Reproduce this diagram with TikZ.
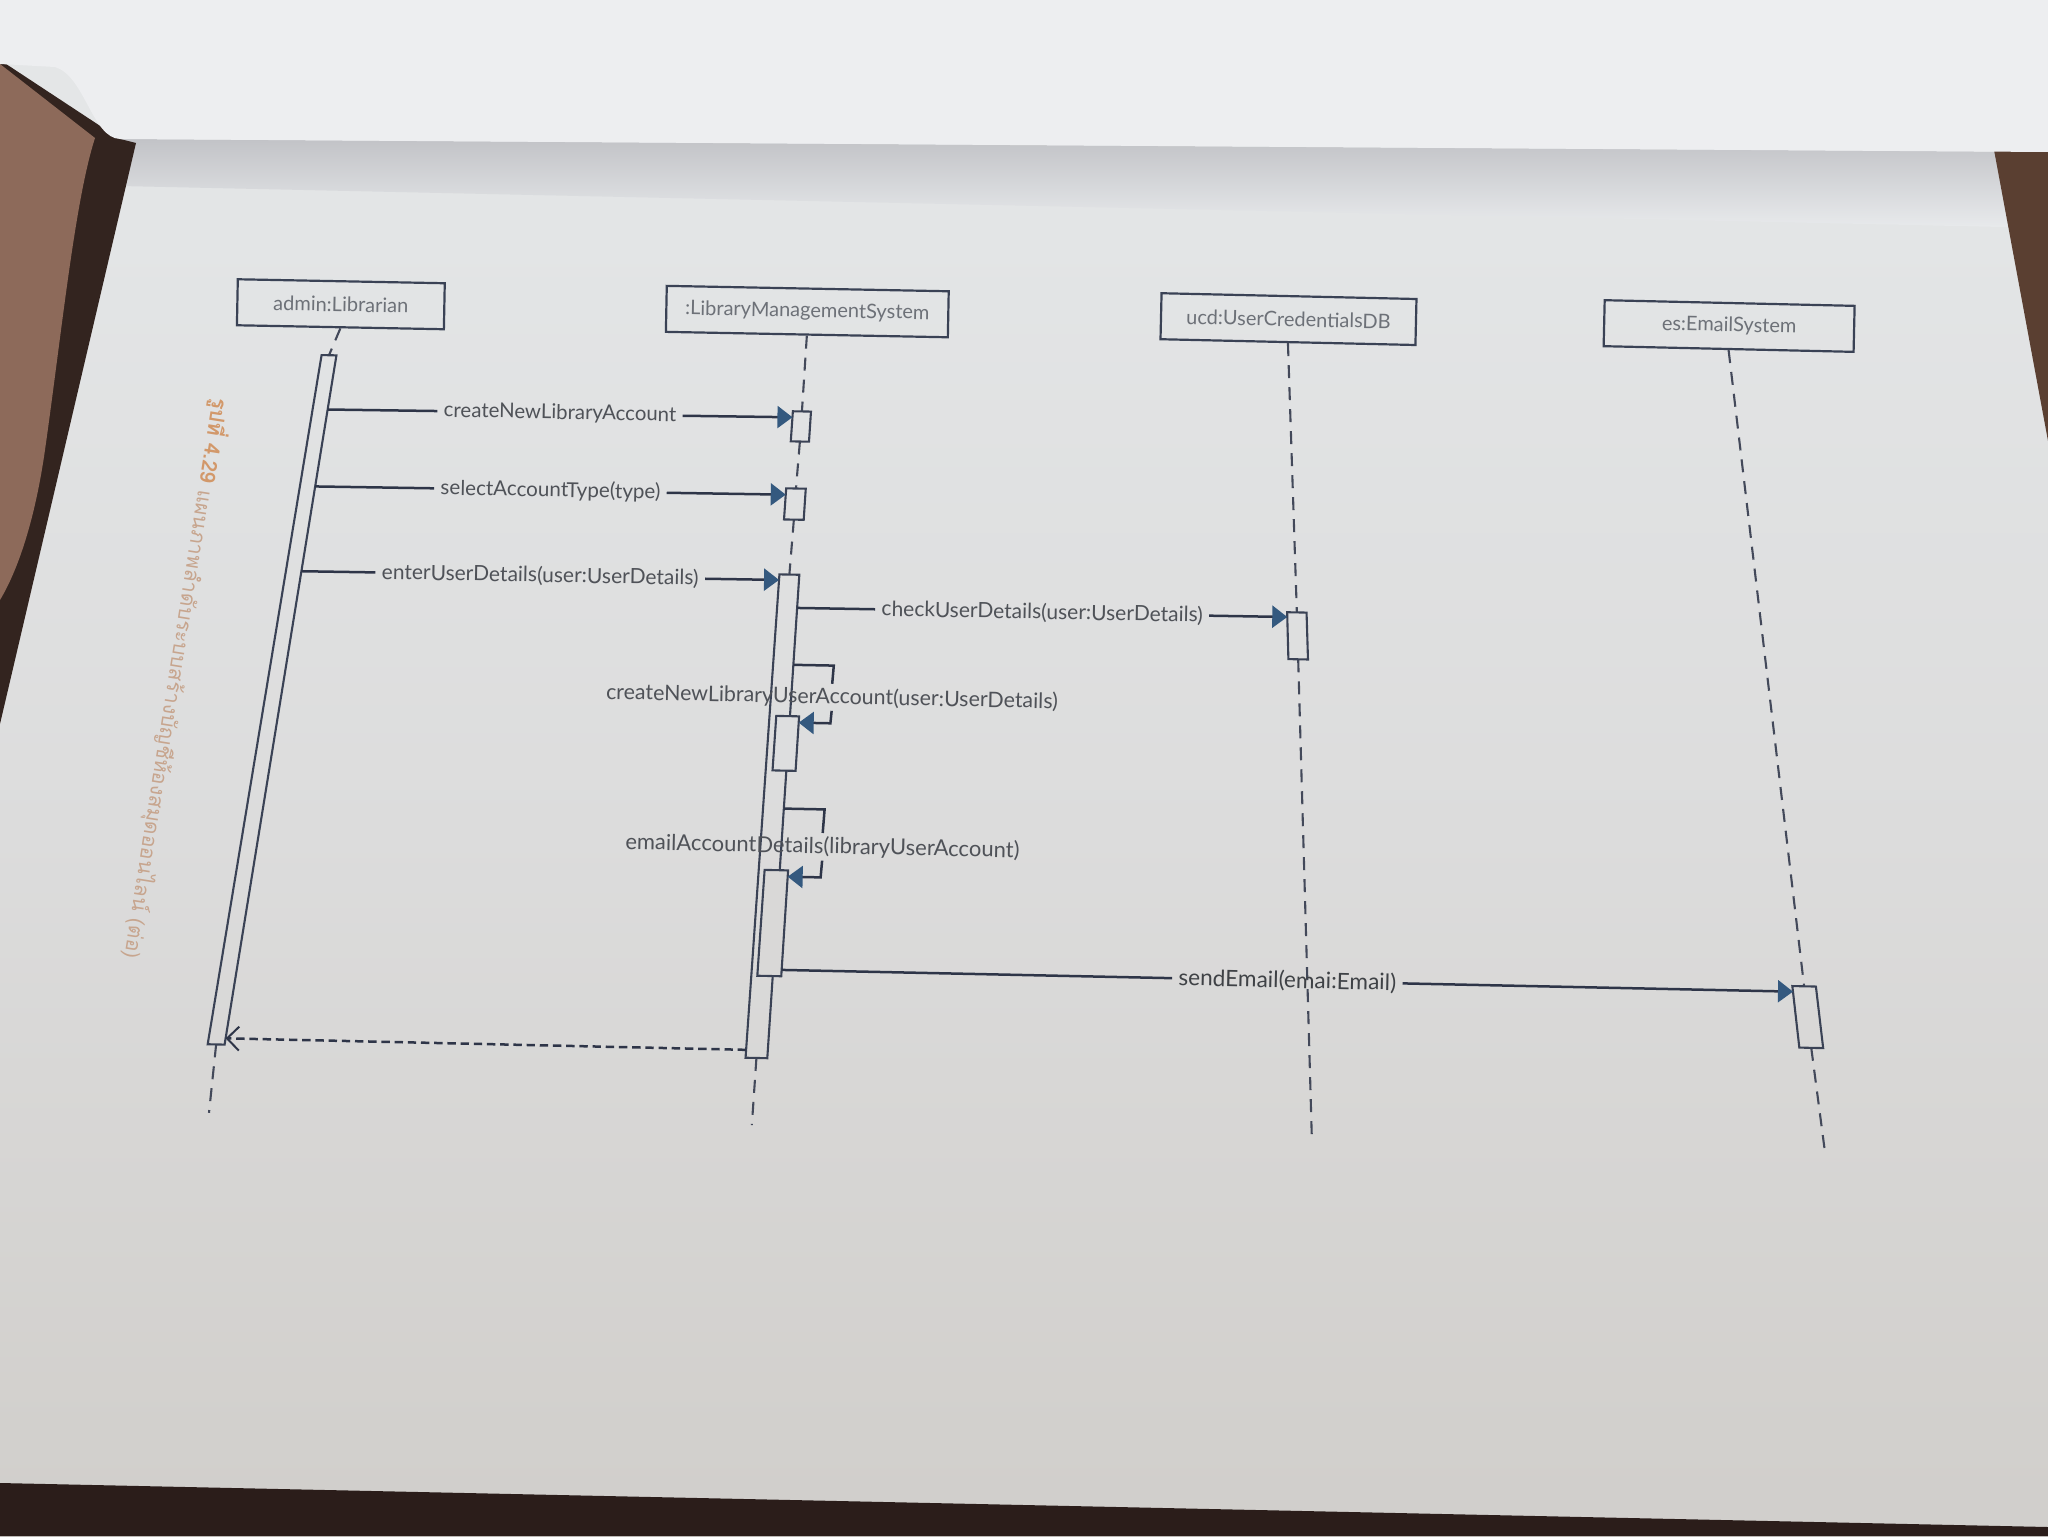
\documentclass[tikz,border=0pt]{standalone}
\usepackage{fontspec}
\setmainfont{Lato}
\newfontfamily\thaifont[Script=Thai]{Loma}
\usetikzlibrary{arrows.meta,calc}

% paper, ink and caption colours
\definecolor{pgA}{HTML}{E8EAEC}
\definecolor{pgB}{HTML}{E3E5E6}
\definecolor{pgC}{HTML}{DCDCDC}
\definecolor{pgD}{HTML}{D2D0CD}
\definecolor{pgE}{HTML}{C8C4C0}
\definecolor{toppage}{HTML}{EDEEF0}
\definecolor{foldshadow}{HTML}{C2C3C7}
\definecolor{skin}{HTML}{8D6A5A}
\definecolor{darkgap}{HTML}{33241F}
\definecolor{tablewood}{HTML}{5A3F31}
\definecolor{tabledark}{HTML}{2B1D1A}
\definecolor{inkline}{HTML}{2E3548}
\definecolor{barline}{HTML}{3A4255}
\definecolor{tipblue}{HTML}{34597F}
\definecolor{labelgrey}{HTML}{4F5258}
\definecolor{headgrey}{HTML}{6D7178}
\definecolor{captionbold}{HTML}{D2986A}
\definecolor{captionlight}{HTML}{C7A58E}
\definecolor{nestfillA}{HTML}{DDDEDF}
\definecolor{nestfillB}{HTML}{D9D8D7}

\pgfdeclareverticalshading{pageshade}{100bp}{color(0bp)=(pgE); color(28.4bp)=(pgD); color(47.9bp)=(pgC); color(67.4bp)=(pgB); color(100bp)=(pgA)}

% point of the sheet at lifeline position u and time v (bilinear frame)
\newcommand\mapat[3]{%
  \pgfmathsetmacro\mapx{(1-(#3))*((1-(#2))*337.0+(#2)*1731.9)+(#3)*((1-(#2))*209.0+(#2)*1824.6)}%
  \pgfmathsetmacro\mapy{(1-(#3))*((1-(#2))*327.8+(#2)*350.0)+(#3)*((1-(#2))*1112.8+(#2)*1149.4)}%
  \coordinate (#1) at (\mapx,\mapy);%
}
% activation bar corners: name, centre u, half width, top v, bottom v
\newcommand\actbar[5]{%
  \mapat{#1-tl}{(#2)-(#3)}{#4}\mapat{#1-tr}{(#2)+(#3)}{#4}%
  \mapat{#1-bl}{(#2)-(#3)}{#5}\mapat{#1-br}{(#2)+(#3)}{#5}%
  \mapat{#1-t}{#2}{#4}\mapat{#1-b}{#2}{#5}%
}

\begin{document}
\begin{tikzpicture}[x=0.5pt,y=-0.5pt,
  objhead/.style={draw=barline, line width=1.1pt, minimum height=23pt, inner sep=0pt,
    font=\fontsize{10}{12}\selectfont, text=headgrey},
  actbox/.style={draw=barline, line width=1.05pt, line join=miter},
  lifeline/.style={draw=inkline!90, line width=1.05pt, dash pattern=on 6.5pt off 4.5pt},
  msgline/.style={draw=inkline, line width=1.25pt},
  msgtip/.style={-{Triangle[length=7.5pt,width=11pt,color=tipblue]}},
  retline/.style={draw=inkline, line width=1.25pt, dash pattern=on 4.2pt off 2.4pt,
    -{Straight Barb[length=6pt,width=12pt,line width=1pt]}},
  msg/.style={text=labelgrey, inner xsep=3pt, inner ysep=1.5pt},
  capt/.style={font=\thaifont\fontsize{10.5}{12}\selectfont, inner sep=0pt}
]
\useasboundingbox (0,0) rectangle (2048,1536);

% ---- the open book ----
\shade[shading=pageshade] (0,0) rectangle (2048,1536);
\shade[top color=foldshadow, bottom color=pgA] (120,139) -- (2048,152) -- (2048,228) -- (120,186) -- cycle;
\fill[darkgap] (0,60) -- (120,139) -- (136,143) -- (0,724) -- cycle;
\fill[skin] (0,64) -- (95,138) .. controls (75,200) and (62,330) .. (45,450)
  .. controls (35,520) and (18,570) .. (0,600) -- cycle;
\fill[tablewood] (1994,150) -- (2048,150) -- (2048,441) -- cycle;
\fill[toppage] (0,0) -- (2048,0) -- (2048,152) -- (120,139)
  .. controls (92,138) and (85,76) .. (55,67) -- (0,64) -- cycle;
\fill[tabledark] (0,1483) -- (2048,1527) -- (2048,1536) -- (0,1536) -- cycle;

% ---- caption ----
\node[capt, rotate=-99, anchor=west] (caption) at (221,398)
  {{\bfseries\color{captionbold}รูปที่ 4.29}\color{captionlight}\ แผนภาพลำดับระบบสร้างบัญชีห้องสมุดออนไลน์ (ต่อ)};

% ---- frame points ----
\mapat{hAc}{0}{-0.03}\mapat{hLc}{0.336}{-0.03}\mapat{hUc}{0.6826}{-0.03}\mapat{hEc}{1}{-0.03}
\mapat{aEnd}{0}{1}\mapat{lEnd}{0.336}{1}\mapat{uEnd}{0.6826}{1}\mapat{eEnd}{1}{1}

\actbar{aB}{-0.0025}{0.0053}{0.035}{0.913}
\actbar{lB1}{0.337}{0.0064}{0.0964}{0.1345}
\actbar{lB2}{0.3365}{0.0068}{0.194}{0.2334}
\actbar{lB3}{0.336}{0.0068}{0.303}{0.915}
\actbar{lB4}{0.3413}{0.0076}{0.482}{0.551}
\actbar{lB5}{0.3406}{0.0076}{0.677}{0.811}
\actbar{uB}{0.6826}{0.0066}{0.339}{0.398}
\actbar{eB}{0.999}{0.0075}{0.796}{0.873}

% ---- object heads ----
\node[objhead, minimum width=103.5pt, rotate=-1.1] (hA) at (hAc) {admin:Librarian};
\node[objhead, minimum width=141pt, rotate=-1.1] (hL) at (hLc) {:LibraryManagementSystem};
\node[objhead, minimum width=127.5pt, rotate=-1.3] (hU) at (hUc) {ucd:UserCredentialsDB};
\node[objhead, minimum width=125pt, rotate=-1.3] (hE) at (hEc) {es:EmailSystem};

% ---- lifelines ----
\draw[lifeline] (hA.south) -- (aB-t);
\draw[lifeline] (aB-b) -- (aEnd);
\draw[lifeline] (hL.south) -- (lB1-t);
\draw[lifeline] (lB1-b) -- (lB2-t);
\draw[lifeline] (lB2-b) -- (lB3-t);
\draw[lifeline] (lB3-b) -- (lEnd);
\draw[lifeline] (hU.south) -- (uB-t);
\draw[lifeline] (uB-b) -- (uEnd);
\draw[lifeline] (hE.south) -- (eB-t);
\draw[lifeline] (eB-b) -- (eEnd);

% ---- activation bars ----
\foreach \b in {aB,lB1,lB2,lB3,uB,eB}
  \draw[actbox] (\b-tl) -- (\b-tr) -- (\b-br) -- (\b-bl) -- cycle;
\draw[actbox, fill=nestfillA] (lB4-tl) -- (lB4-tr) -- (lB4-br) -- (lB4-bl) -- cycle;
\draw[actbox, fill=nestfillB] (lB5-tl) -- (lB5-tr) -- (lB5-br) -- (lB5-bl) -- cycle;

% ---- messages ----
\mapat{m1s}{0.0028}{0.104}\mapat{m1e}{0.3306}{0.104}
\node[msg, font=\fontsize{10.2}{12}\selectfont, rotate=-1.1] (m1l) at ($(m1s)!0.5!(m1e)$) {createNewLibraryAccount};
\draw[msgline] (m1s) -- (m1l.west);
\draw[msgline, msgtip] (m1l.east) -- (m1e);

\mapat{m2s}{0.0028}{0.202}\mapat{m2e}{0.3297}{0.202}
\node[msg, font=\fontsize{10.3}{12}\selectfont, rotate=-1.1] (m2l) at ($(m2s)!0.5!(m2e)$) {selectAccountType(type)};
\draw[msgline] (m2s) -- (m2l.west);
\draw[msgline, msgtip] (m2l.east) -- (m2e);

\mapat{m3s}{0.0028}{0.31}\mapat{m3e}{0.3292}{0.31}
\node[msg, font=\fontsize{10.5}{12}\selectfont, rotate=-1.1] (m3l) at ($(m3s)!0.5!(m3e)$) {enterUserDetails(user:UserDetails)};
\draw[msgline] (m3s) -- (m3l.west);
\draw[msgline, msgtip] (m3l.east) -- (m3e);

\mapat{m4s}{0.3428}{0.345}\mapat{m4e}{0.676}{0.345}
\node[msg, font=\fontsize{10.5}{12}\selectfont, rotate=-1.1] (m4l) at ($(m4s)!0.5!(m4e)$) {checkUserDetails(user:UserDetails)};
\draw[msgline] (m4s) -- (m4l.west);
\draw[msgline, msgtip] (m4l.east) -- (m4e);

% self call: createNewLibraryUserAccount
\mapat{s1a}{0.3428}{0.417}\mapat{s1b}{0.370}{0.417}\mapat{s1c}{0.370}{0.490}\mapat{s1d}{0.3489}{0.490}
\node[msg, font=\fontsize{10.7}{12}\selectfont, rotate=-1.2] (s1l) at ($(s1b)!0.55!(s1c)$) {createNewLibraryUserAccount(user:UserDetails)};
\draw[msgline] (s1a) -- (s1b) -- (s1l.north);
\draw[msgline, msgtip] (s1l.south) -- (s1c) -- (s1d);

% self call: emailAccountDetails
\mapat{s2a}{0.3428}{0.599}\mapat{s2b}{0.3695}{0.599}\mapat{s2c}{0.3695}{0.685}\mapat{s2d}{0.3482}{0.685}
\node[msg, font=\fontsize{11}{13}\selectfont, rotate=-1.2] (s2l) at ($(s2b)!0.55!(s2c)$) {emailAccountDetails(libraryUserAccount)};
\draw[msgline] (s2a) -- (s2b) -- (s2l.north);
\draw[msgline, msgtip] (s2l.south) -- (s2c) -- (s2d);

\mapat{m5s}{0.3482}{0.803}\mapat{m5e}{0.9915}{0.803}
\node[msg, font=\fontsize{11.3}{13}\selectfont, rotate=-1.3, text=labelgrey!80!black] (m5l) at ($(m5s)!0.5!(m5e)$) {sendEmail(emai:Email)};
\draw[msgline] (m5s) -- (m5l.west);
\draw[msgline, msgtip] (m5l.east) -- (m5e);

% reply to the librarian
\mapat{r1s}{0.3292}{0.905}\mapat{r1e}{0.0028}{0.905}
\draw[retline] (r1s) -- (r1e);
\end{tikzpicture}
\end{document}
